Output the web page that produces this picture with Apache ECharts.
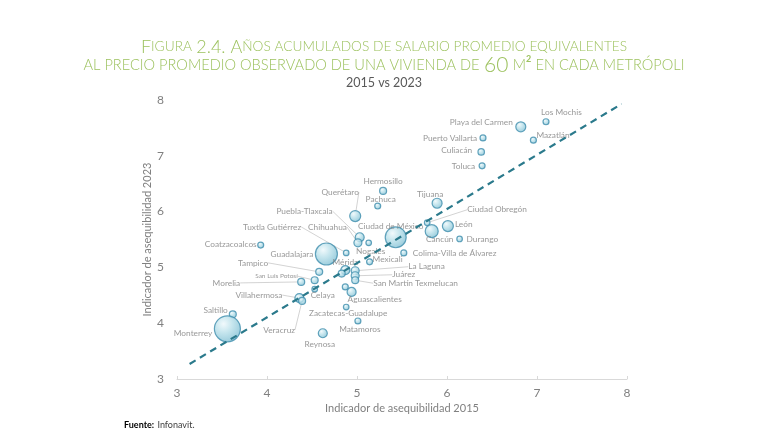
<!DOCTYPE html>
<html lang="es">
<head>
<meta charset="UTF-8">
<title>Figura 2.4</title>
<script src="https://cdn.jsdelivr.net/npm/echarts@6/dist/echarts.min.js"></script>
<style>html,body{margin:0;padding:0;background:#fff;}</style>
</head>
<body>
<div id="main" style="width:768px;height:442px;"></div>
<script type="text/javascript">
// datos
var ciudades = ['Los Mochis', 'Playa del Carmen', 'Mazatlán', 'Puerto Vallarta', 'Culiacán', 'Toluca',
    'Hermosillo', 'Pachuca', 'Tijuana', 'Querétaro', 'Ciudad Obregón', 'León', 'Cancún', 'Durango',
    'Ciudad de México', 'Puebla-Tlaxcala', 'Chihuahua', 'Nogales', 'Tuxtla Gutiérrez',
    'Colima-Villa de Álvarez', 'Guadalajara', 'Coatzacoalcos', 'Mexicali', 'Tampico', 'Mérida', '',
    'La Laguna', 'Juárez', 'San Martín Texmelucan', '', 'San Luis Potosí', 'Morelia', 'Celaya',
    'Villahermosa', 'Veracruz', 'Aguascalientes', 'Zacatecas-Guadalupe', 'Matamoros', 'Reynosa',
    'Saltillo', 'Monterrey'];
var indicador2015 = [7.10, 6.82, 6.96, 6.40, 6.38, 6.39,
    5.29, 5.23, 5.89, 4.98, 5.78, 6.01, 5.83, 6.14,
    5.43, 5.03, 5.01, 5.13, 4.88,
    5.52, 4.66, 3.93, 5.14, 4.58, 4.87, 4.83,
    4.98, 4.98, 4.98, 4.87, 4.53, 4.38, 4.53,
    4.36, 4.39, 4.94, 4.88, 5.01, 4.62,
    3.62, 3.56];
var indicador2023 = [7.61, 7.52, 7.28, 7.32, 7.07, 6.82,
    6.37, 6.10, 6.15, 5.92, 5.80, 5.74, 5.65, 5.51,
    5.54, 5.54, 5.44, 5.44, 5.26,
    5.26, 5.24, 5.40, 5.10, 4.92, 4.95, 4.89,
    4.94, 4.85, 4.77, 4.65, 4.77, 4.74, 4.61,
    4.45, 4.40, 4.56, 4.29, 4.04, 3.82,
    4.16, 3.90];
// peso relativo de cada metropoli (area de la burbuja, Monterrey = 100)
var peso = [5.3, 14.8, 5.3, 5.3, 6.2, 5.3,
    7.2, 5.3, 14.8, 17.9, 4.6, 17.9, 25, 4.6,
    65, 12, 9.5, 4.6, 4.6,
    5.3, 71.6, 5.3, 5.3, 7.2, 12, 7.2,
    9.5, 9.5, 7.2, 5.3, 7.2, 7.2, 4.6,
    12, 7.2, 12, 4.6, 5.3, 12,
    7.2, 100];
var tendencia2015 = [3.14, 7.94];
var tendencia2023 = [3.27, 7.93];
var ticksEje = [3, 4, 5, 6, 7, 8];

// colocacion de etiquetas: [dx, dy, alineacion, linea guia]
var etiquetas = {
    'Los Mochis': [-5, -9, 'left'],
    'Playa del Carmen': [-8, -4, 'right'],
    'Mazatlán': [3, -5, 'left'],
    'Puerto Vallarta': [-6, 0, 'right'],
    'Culiacán': [-9, -2, 'right'],
    'Toluca': [-7, 0, 'right'],
    'Hermosillo': [0, -10, 'center'],
    'Pachuca': [3, -7, 'center'],
    'Tijuana': [-7, -9, 'center'],
    'Querétaro': [-15, -24, 'center', true],
    'Ciudad Obregón': [40, -13, 'left', true],
    'León': [7, -2, 'left'],
    'Cancún': [8, 8, 'center'],
    'Durango': [7, 0, 'left'],
    'Ciudad de México': [-5, -11, 'center'],
    'Puebla-Tlaxcala': [-27, -26, 'right', true],
    'Chihuahua': [-11, -16, 'right', true],
    'Nogales': [2, 8, 'center'],
    'Tuxtla Gutiérrez': [-45, -26, 'right', true],
    'Colima-Villa de Álvarez': [9, 0, 'left'],
    'Guadalajara': [-13, 0, 'right'],
    'Coatzacoalcos': [-4, -1, 'right'],
    'Mexicali': [3, -2, 'left'],
    'Tampico': [-51, -9, 'right', true],
    'Mérida': [0, -8, 'center'],
    'La Laguna': [53, -4, 'left', true],
    'Juárez': [37, -1, 'left', true],
    'San Martín Texmelucan': [18, 3, 'left', true],
    'San Luis Potosí': [-17, -4, 'right', true],
    'Morelia': [-61, 1, 'right', true],
    'Celaya': [8, 6, 'center'],
    'Villahermosa': [-17, -3, 'right', true],
    'Veracruz': [-23, 29, 'center', true],
    'Aguascalientes': [-4, 7, 'left'],
    'Zacatecas-Guadalupe': [2, 6, 'center'],
    'Matamoros': [2, 8, 'center'],
    'Reynosa': [-3, 11, 'center'],
    'Saltillo': [-5, -4, 'right'],
    'Monterrey': [-15, 5, 'right']
};

var puntos = [];
for (var i = 0; i < ciudades.length; i++) {
    var e = etiquetas[ciudades[i]];
    var item = {
        name: ciudades[i],
        value: [indicador2015[i], indicador2023[i], peso[i]],
        labelLine: { show: !!(e && e[3]) }
    };
    if (ciudades[i] === 'San Luis Potosí') {
        item.label = { fontSize: 6.5 };
    }
    puntos.push(item);
}
var lineaTendencia = [];
for (var j = 0; j < tendencia2015.length; j++) {
    lineaTendencia.push([tendencia2015[j], tendencia2023[j]]);
}

var verde = '#9dc25f';
var gris = '#808080';

var myChart = echarts.init(document.getElementById('main'));
var option = {
    backgroundColor: '#fff',
    textStyle: { fontFamily: 'Lato' },
    title: [
        {
            text: '{b|F}{s|IGURA} {b|2.4. A}{s|ÑOS ACUMULADOS DE SALARIO PROMEDIO EQUIVALENTES}',
            left: 'center', top: 33,
            textStyle: {
                rich: {
                    b: { fontSize: 18, color: verde, fontFamily: 'Lato', fontWeight: 300 },
                    s: { fontSize: 13.7, color: verde, fontFamily: 'Lato', fontWeight: 300 }
                }
            }
        },
        {
            text: '{s|AL PRECIO PROMEDIO OBSERVADO DE UNA VIVIENDA DE} {n|60} {s|M}{sup|2} {s|EN CADA METRÓPOLI}',
            left: 'center', top: 50,
            textStyle: {
                rich: {
                    s: { fontSize: 14.6, color: verde, fontFamily: 'Lato', fontWeight: 300 },
                    n: { fontSize: 21, color: verde, fontFamily: 'Lato', fontWeight: 300 },
                    sup: { fontSize: 9, color: verde, fontFamily: 'Lato', verticalAlign: 'top', padding: [0, 0, 12, 0] }
                }
            }
        },
        {
            text: '2015 vs 2023',
            left: 'center', top: 71,
            textStyle: { fontSize: 12.5, color: '#595959', fontFamily: 'Lato', fontWeight: 'normal' }
        }
    ],
    graphic: [{
        type: 'text', left: 124, top: 419,
        style: {
            text: '{f|Fuente:} {t|Infonavit.}',
            rich: {
                f: { fontSize: 9, fontWeight: 'bold', fill: '#000', fontFamily: 'Lato' },
                t: { fontSize: 9, fill: '#404040', fontFamily: 'Lato' }
            }
        }
    }],
    grid: { left: 177, right: 141, top: 100, bottom: 63 },
    xAxis: {
        type: 'value',
        min: ticksEje[0], max: ticksEje[ticksEje.length - 1], interval: ticksEje[1] - ticksEje[0],
        name: 'Indicador de asequibilidad 2015',
        nameLocation: 'middle', nameGap: 24, nameMoveOverlap: false,
        nameTextStyle: { color: gris, fontSize: 11, fontFamily: 'Lato' },
        axisLine: { show: true, lineStyle: { color: '#d9d9d9', width: 1 } },
        axisTick: { show: true, inside: true, length: 3, lineStyle: { color: '#d9d9d9' } },
        axisLabel: { color: gris, fontSize: 12, margin: 8, fontFamily: 'Lato' },
        splitLine: { show: false }
    },
    yAxis: {
        type: 'value',
        min: ticksEje[0], max: ticksEje[ticksEje.length - 1], interval: ticksEje[1] - ticksEje[0],
        name: 'Indicador de asequibilidad 2023',
        nameLocation: 'middle', nameGap: 24, nameMoveOverlap: false,
        nameTextStyle: { color: gris, fontSize: 11, fontFamily: 'Lato' },
        axisLine: { show: false },
        axisTick: { show: false },
        axisLabel: { color: gris, fontSize: 12, margin: 13, fontFamily: 'Lato' },
        splitLine: { show: false }
    },
    series: [
        {
            type: 'scatter',
            data: puntos,
            symbol: 'circle',
            symbolSize: function (v) { return 26 * Math.sqrt(v[2] / 100); },
            itemStyle: {
                color: new echarts.graphic.RadialGradient(0.36, 0.32, 0.78, [
                    { offset: 0, color: '#eef8fb' },
                    { offset: 0.4, color: '#b9e0ea' },
                    { offset: 0.8, color: '#8cc6d8' },
                    { offset: 1, color: '#5a9fba' }
                ]),
                borderColor: '#3f8dad',
                borderWidth: 1.2
            },
            label: {
                show: true,
                formatter: function (p) { return p.name; },
                color: gris,
                fontSize: 8.3,
                fontFamily: 'Lato'
            },
            labelLine: {
                show: false,
                lineStyle: { color: '#c8c8c8', width: 0.8 }
            },
            labelLayout: function (p) {
                var e = etiquetas[ciudades[p.dataIndex]];
                if (!e) { return {}; }
                var cx = p.rect.x + p.rect.width / 2;
                var cy = p.rect.y + p.rect.height / 2;
                return { x: cx + e[0], y: cy + e[1], align: e[2], verticalAlign: 'middle' };
            },
            emphasis: { disabled: true },
            z: 2
        },
        {
            type: 'line',
            data: lineaTendencia,
            symbol: 'none',
            silent: true,
            lineStyle: { color: '#2b7a8c', width: 2.2, type: [7, 5] },
            z: 3
        }
    ]
};
myChart.setOption(option);
</script>
</body>
</html>
